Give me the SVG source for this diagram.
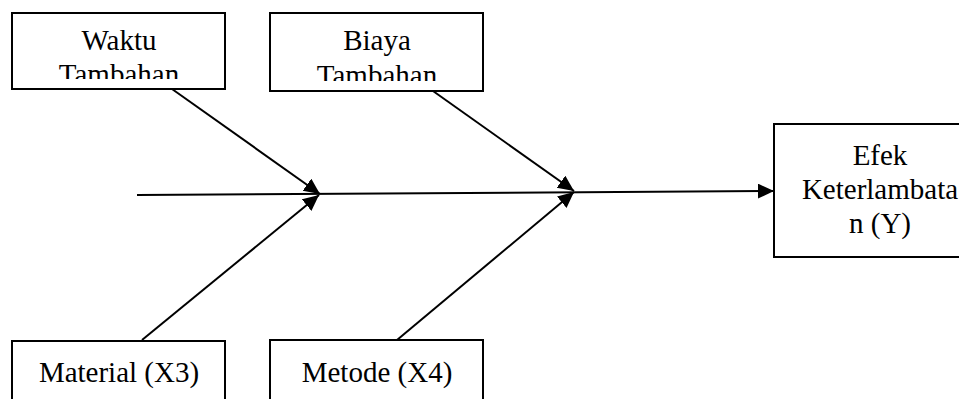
<svg xmlns="http://www.w3.org/2000/svg" width="959" height="399" viewBox="0 0 959 399">
<style>
.box{fill:#fff;stroke:#000;stroke-width:2}
.t{font-family:"Liberation Serif","Times New Roman",serif;font-size:29px;fill:#000;text-anchor:middle}
.c{stroke:#000;stroke-width:2;fill:none;marker-end:url(#ah)}
</style>
<defs>
<marker id="ah" markerUnits="userSpaceOnUse" markerWidth="17" markerHeight="16" refX="16" refY="7.5" orient="auto">
<path d="M0,0 L16,7.5 L0,15 Z" fill="#000"/>
</marker>
<clipPath id="cw"><rect x="14" y="14" width="210" height="65"/></clipPath>
<clipPath id="cb"><rect x="272" y="14" width="210" height="67"/></clipPath>
</defs>
<rect width="959" height="399" fill="#fff"/>
<g id="waktu">
<rect class="box" x="12" y="13" width="213" height="76"/>
<g clip-path="url(#cw)">
<text class="t" x="119" y="50">Waktu</text>
<text class="t" x="119" y="84">Tambahan</text>
</g>
</g>
<g id="biaya">
<rect class="box" x="270" y="13" width="213" height="78"/>
<g clip-path="url(#cb)">
<text class="t" x="377" y="50">Biaya</text>
<text class="t" x="377" y="85">Tambahan</text>
</g>
</g>
<g id="material">
<rect class="box" x="12" y="341" width="213" height="70"/>
<text class="t" x="119" y="382">Material (X3)</text>
</g>
<g id="metode">
<rect class="box" x="270" y="340" width="213" height="71"/>
<text class="t" x="377" y="382">Metode (X4)</text>
</g>
<g id="efek">
<rect class="box" x="774" y="124" width="213" height="133"/>
<text class="t" x="880" y="165">Efek</text>
<text class="t" x="880" y="199">Keterlambata</text>
<text class="t" x="880" y="233">n (Y)</text>
</g>
<g id="connectors">
<line class="c" x1="137" y1="195" x2="774" y2="191"/>
<line class="c" x1="172" y1="89" x2="320" y2="194"/>
<line class="c" x1="142" y1="340" x2="319" y2="195"/>
<line class="c" x1="433" y1="91" x2="574" y2="191"/>
<line class="c" x1="397" y1="340" x2="574" y2="192"/>
</g>
</svg>
